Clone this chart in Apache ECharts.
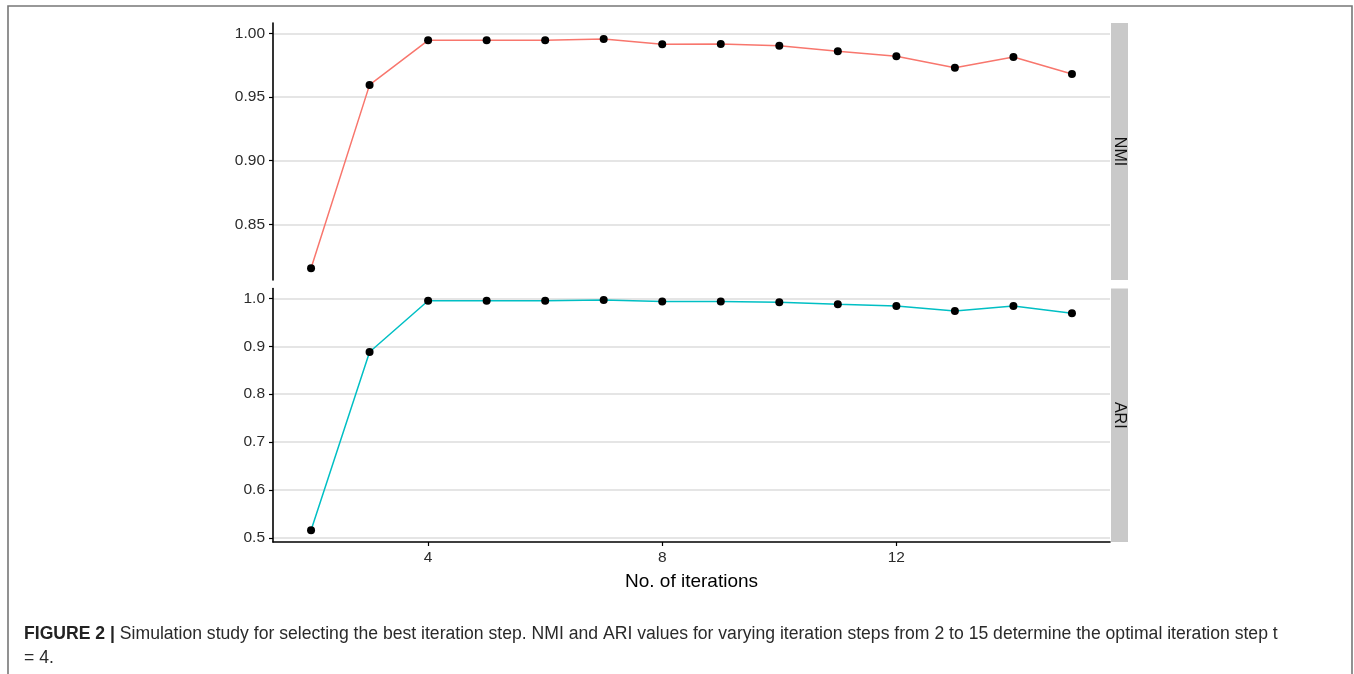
<!DOCTYPE html>
<html>
<head>
<meta charset="utf-8">
<script src="https://cdn.jsdelivr.net/npm/echarts@6/dist/echarts.min.js"></script>
<style>
html,body{margin:0;padding:0;background:#fff;}
#c{width:1354px;height:674px;}
</style>
</head>
<body>
<div id="c"></div>
<script>
// ---- data ----
var iterations = [2, 3, 4, 5, 6, 7, 8, 9, 10, 11, 12, 13, 14, 15];
var nmiValues = [0.8155, 0.9595, 0.9945, 0.9945, 0.9945, 0.9955, 0.9914, 0.9916, 0.9903, 0.9859, 0.982, 0.973, 0.9814, 0.968];
var ariValues = [0.516, 0.888, 0.995, 0.995, 0.995, 0.9964, 0.9932, 0.9935, 0.992, 0.9876, 0.984, 0.9735, 0.984, 0.969];
var xTicks = [4, 8, 12];
var nmiTicks = [0.85, 0.90, 0.95, 1.00];
var ariTicks = [0.5, 0.6, 0.7, 0.8, 0.9, 1.0];
var panelLabels = ['NMI', 'ARI'];
var xTitle = 'No. of iterations';
var captionBold = 'FIGURE 2 |';
var captionText = ' Simulation study for selecting the best iteration step. NMI and ARI values for varying iteration steps from 2 to 15 determine the optimal iteration step t';
var captionText2 = '= 4.';

function pairs(xs, ys) { return xs.map(function (x, i) { return [x, ys[i]]; }); }

var FONT = 'Liberation Sans, Arial, sans-serif';
var chart = echarts.init(document.getElementById('c'), null, {renderer: 'canvas'});

var gridL = 273, gridR = 1110;
var p1 = {top: 23, bottom: 280};
var p2 = {top: 288.5, bottom: 542};

function yAxisCfg(idx, min, max, ticks, dec) {
  return {
    type: 'value', gridIndex: idx, min: min, max: max,
    axisLine: {show: true, lineStyle: {color: '#000', width: 1.6}},
    axisTick: {show: true, length: 4, customValues: ticks, lineStyle: {color: '#000', width: 1.2}},
    axisLabel: {customValues: ticks, color: '#2b2b2b', fontSize: 15.5, fontFamily: FONT, margin: 8,
      formatter: function (v) { return Number(v).toFixed(dec); }},
    splitLine: {show: true, lineStyle: {color: '#dcdcdc', width: 1.5}}
  };
}

var option = {
  backgroundColor: '#fff',
  animation: false,
  grid: [
    {left: gridL, top: p1.top, width: gridR - gridL, height: p1.bottom - p1.top},
    {left: gridL, top: p2.top, width: gridR - gridL, height: p2.bottom - p2.top}
  ],
  xAxis: [
    {type: 'value', gridIndex: 0, min: 1.35, max: 15.65, show: false, splitLine: {show: false}},
    {type: 'value', gridIndex: 1, min: 1.35, max: 15.65,
      name: xTitle, nameLocation: 'middle', nameGap: 30,
      nameTextStyle: {color: '#000', fontSize: 19, fontFamily: FONT},
      axisLine: {show: true, lineStyle: {color: '#000', width: 1.6}},
      axisTick: {show: true, length: 4, customValues: xTicks, lineStyle: {color: '#000', width: 1.2}},
      axisLabel: {customValues: xTicks, color: '#2b2b2b', fontSize: 15.5, fontFamily: FONT, margin: 8},
      splitLine: {show: false}
    }
  ],
  yAxis: [
    yAxisCfg(0, 0.8063, 1.0081, nmiTicks, 2),
    yAxisCfg(1, 0.4916, 1.0205, ariTicks, 1)
  ],
  series: [
    {type: 'line', xAxisIndex: 0, yAxisIndex: 0, data: pairs(iterations, nmiValues),
      symbol: 'circle', symbolSize: 8, lineStyle: {color: '#F8766D', width: 1.5},
      itemStyle: {color: '#000'}, z: 3},
    {type: 'line', xAxisIndex: 1, yAxisIndex: 1, data: pairs(iterations, ariValues),
      symbol: 'circle', symbolSize: 8, lineStyle: {color: '#00BFC4', width: 1.5},
      itemStyle: {color: '#000'}, z: 3}
  ],
  graphic: [
    {type: 'polyline', shape: {points: [[8, 674], [8, 6], [1352, 6], [1352, 674]]},
      style: {stroke: '#777', lineWidth: 1.6, fill: null}, silent: true},
    {type: 'rect', shape: {x: 1111, y: p1.top, width: 17, height: p1.bottom - p1.top},
      style: {fill: '#c9c9c9'}, silent: true},
    {type: 'rect', shape: {x: 1111, y: p2.top, width: 17, height: p2.bottom - p2.top},
      style: {fill: '#c9c9c9'}, silent: true},
    {type: 'text', x: 1119.5, y: (p1.top + p1.bottom) / 2, rotation: -Math.PI / 2,
      style: {text: panelLabels[0], fill: '#111', font: '16px ' + FONT, align: 'center', verticalAlign: 'middle'}, silent: true},
    {type: 'text', x: 1119.5, y: (p2.top + p2.bottom) / 2, rotation: -Math.PI / 2,
      style: {text: panelLabels[1], fill: '#111', font: '16px ' + FONT, align: 'center', verticalAlign: 'middle'}, silent: true},
    {type: 'text', left: 24, top: 625,
      style: {text: '{b|' + captionBold + '}{n|' + captionText + '}\n{n|' + captionText2 + '}',
        rich: {
          b: {fontWeight: 'bold', fontSize: 17.6, fontFamily: FONT, fill: '#222', lineHeight: 24},
          n: {fontSize: 17.6, fontFamily: FONT, fill: '#2a2a2a', lineHeight: 24}
        }}, silent: true}
  ]
};
chart.setOption(option);
</script>
</body>
</html>
